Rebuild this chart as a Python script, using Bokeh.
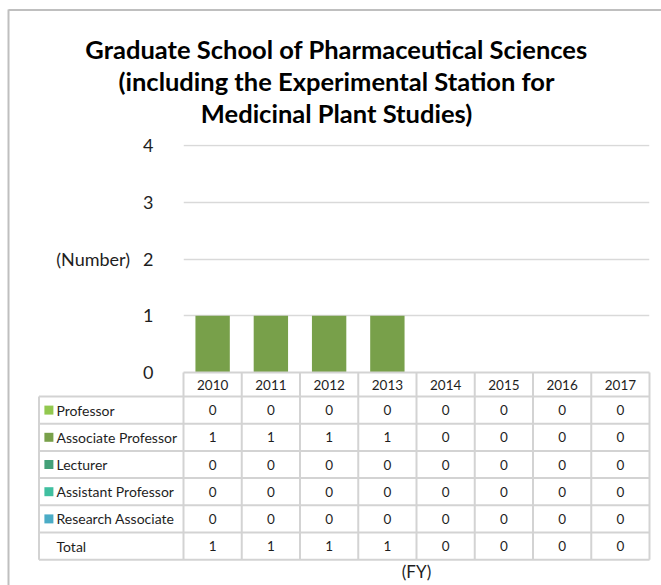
from bokeh.plotting import figure
from bokeh.models import FixedTicker, Range1d, ColumnDataSource
from bokeh.core.properties import value
from bokeh.embed import file_html
from bokeh.resources import INLINE

# ---------------- data ----------------
years = ["2010", "2011", "2012", "2013", "2014", "2015", "2016", "2017"]
series_names = ["Professor", "Associate Professor", "Lecturer",
                "Assistant Professor", "Research Associate"]
professor = [0, 0, 0, 0, 0, 0, 0, 0]
associate_professor = [1, 1, 1, 1, 0, 0, 0, 0]
lecturer = [0, 0, 0, 0, 0, 0, 0, 0]
assistant_professor = [0, 0, 0, 0, 0, 0, 0, 0]
research_associate = [0, 0, 0, 0, 0, 0, 0, 0]
total = [1, 1, 1, 1, 0, 0, 0, 0]
y_ticks = [0, 1, 2, 3, 4]
title_lines = ["Graduate School of Pharmaceutical Sciences",
               "(including the Experimental Station for",
               "Medicinal Plant Studies)"]
y_label = "(Number)"
x_label = "(FY)"

# ---------------- styles ----------------
colors = ["#92c84f", "#78a04a", "#43a078", "#40bfa0", "#4bacc6"]
FONT = "Lato"
TXT = "#1e1e1e"
GRID = "#d9d9d9"
TBL = "#d3d3d3"

W, H = 661, 585
ML, MR, MT, MB = 183, 12, 144, 213
COLW = (W - ML - MR) / len(years)

p = figure(width=W, height=H, x_range=years, y_range=Range1d(0, 4.02),
           x_axis_location=None, output_backend="svg", toolbar_location=None,
           min_border_left=ML, min_border_right=MR, min_border_top=MT,
           min_border_bottom=MB)
p.x_range.range_padding = 0
p.outline_line_color = None
p.background_fill_color = "white"
p.border_fill_color = "white"
p.xgrid.grid_line_color = None
p.ygrid.grid_line_color = GRID
p.ygrid.grid_line_width = 1.5

yax = p.yaxis[0]
yax.ticker = FixedTicker(ticks=y_ticks)
yax.axis_line_color = None
yax.major_tick_line_color = None
yax.minor_tick_line_color = None
yax.major_label_text_font = FONT
yax.major_label_text_font_size = "18px"
yax.major_label_text_color = TXT
yax.major_label_standoff = 24
yax.axis_label = y_label
yax.axis_label_orientation = "horizontal"
yax.axis_label_text_font = FONT
yax.axis_label_text_font_size = "18px"
yax.axis_label_text_font_style = "normal"
yax.axis_label_text_color = TXT
yax.axis_label_standoff = 10

data = dict(year=years)
series_vals = [professor, associate_professor, lecturer,
               assistant_professor, research_associate]
for n_, v in zip(series_names, series_vals):
    data[n_] = v
src = ColumnDataSource(data)
p.vbar_stack(series_names, x="year", width=0.59, source=src,
             color=colors, line_color=None)

# table coordinate system: pixels below the plot frame bottom
FRAME_H = H - MT - MB
p.extra_y_ranges = {"tbl": Range1d(start=0, end=-FRAME_H)}

HEAD_H = 24
ROW_H = 27.2
LABEL_LEFT = -144.5 / COLW
n = len(years)
nrows = len(series_names) + 1

# grid lines of the table
hx0, hx1, hy = [0], [n], [0]
for r in range(nrows + 1):
    hx0.append(LABEL_LEFT); hx1.append(n); hy.append(HEAD_H + ROW_H * r)
p.segment(x0=hx0, x1=hx1, y0=hy, y1=hy, y_range_name="tbl",
          line_color=TBL, line_width=2, level="overlay")
vx, vy0, vy1 = [LABEL_LEFT], [HEAD_H], [HEAD_H + ROW_H * nrows]
for k in range(n + 1):
    vx.append(k); vy0.append(0); vy1.append(HEAD_H + ROW_H * nrows)
p.segment(x0=vx, x1=vx, y0=vy0, y1=vy1, y_range_name="tbl",
          line_color=TBL, line_width=2, level="overlay")

# header years
p.text(x=[i + 0.5 for i in range(n)], y=[HEAD_H / 2] * n, text=years,
       y_range_name="tbl", text_font=value(FONT), text_font_size="13.5px",
       text_color=TXT, text_align="center", text_baseline="middle",
       level="overlay")

# rows
row_labels = series_names + ["Total"]
row_vals = series_vals + [total]
tx, ty, tt = [], [], []
for r, vals in enumerate(row_vals):
    yc = HEAD_H + ROW_H * (r + 0.5)
    for i, v in enumerate(vals):
        tx.append(i + 0.5); ty.append(yc); tt.append(str(v))
p.text(x=tx, y=ty, text=tt, y_range_name="tbl", text_font=value(FONT),
       text_font_size="13.5px", text_color=TXT, text_align="center",
       text_baseline="middle", level="overlay")
ly = [HEAD_H + ROW_H * (r + 0.5) for r in range(nrows)]
p.text(x=[(56 - ML) / COLW] * nrows, y=ly, text=row_labels, y_range_name="tbl",
       text_font=value(FONT), text_font_size="14px", text_color=TXT,
       text_align="left", text_baseline="middle", level="overlay")
# legend keys (drawn as short thick segments)
kc = (48.4 - ML) / COLW
kh = 4.5 / COLW
nk = len(series_names)
p.segment(x0=[kc - kh] * nk, x1=[kc + kh] * nk, y0=ly[:nk], y1=ly[:nk],
          line_color=colors, line_width=9, line_cap="butt",
          y_range_name="tbl", level="overlay")

# x axis label (FY)
p.text(x=[n / 2], y=[199], text=[x_label], y_range_name="tbl",
       text_font=value(FONT), text_font_size="17px", text_color=TXT,
       text_align="center", text_baseline="middle", level="overlay")

# title
p.text(x=[(336 - ML) / COLW] * 3, y=[-324, -292, -260], text=title_lines,
       y_range_name="tbl", text_font=value(FONT), text_font_size="25.5px",
       text_font_style="bold", text_color="#000000", text_align="center",
       text_baseline="middle", level="overlay")

# chart area border (left and top)
bx = (8 - ML) / COLW
ty_top = 9.5 - (H - MB)
p.segment(x0=[bx, bx], x1=[bx, (W - ML) / COLW],
          y0=[ty_top - 0.5, ty_top], y1=[MB, ty_top],
          y_range_name="tbl", line_color="#bfbfbf", line_width=2,
          level="overlay")

open("out.html", "w").write(file_html(p, INLINE))
